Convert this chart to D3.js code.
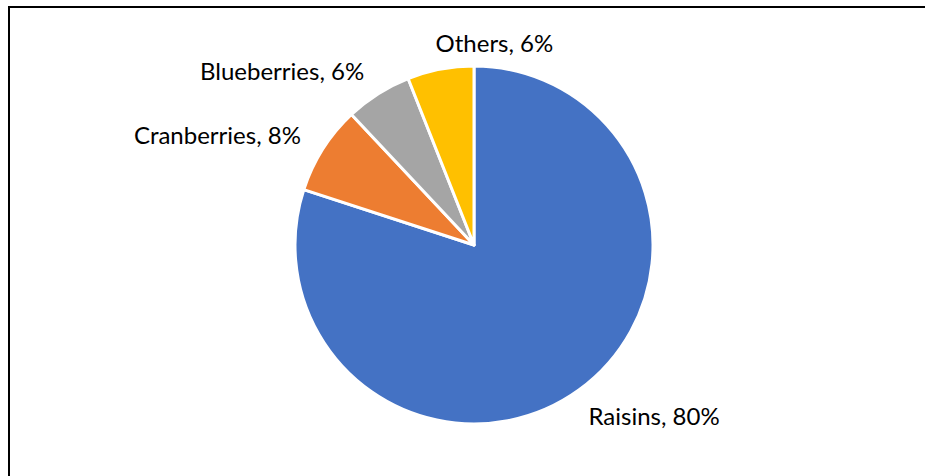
<!DOCTYPE html>
<html><head><meta charset="utf-8">
<script src="https://cdn.jsdelivr.net/npm/d3@7"></script>
<style>html,body{margin:0;padding:0;background:#fff;}svg{display:block;}</style>
</head><body>
<script>
const categories = ["Raisins", "Cranberries", "Blueberries", "Others"];
const values = [80, 8, 6, 6];
const colors = ["#4472C4", "#ED7D31", "#A5A5A5", "#FFC000"];

const W = 925, H = 476;
const cx = 474, cy = 245, R = 179, LR = 205;

const svg = d3.select("body").append("svg").attr("width", W).attr("height", H);
svg.append("rect").attr("width", W).attr("height", H).attr("fill", "#fff");
svg.append("rect").attr("x", 9).attr("y", 7).attr("width", W).attr("height", H)
  .attr("fill", "none").attr("stroke", "#000").attr("stroke-width", 2);

const data = categories.map((c, i) => ({cat: c, val: values[i], color: colors[i]}));
const pie = d3.pie().value(d => d.val).sort(null);
const arcs = pie(data);
const arc = d3.arc().innerRadius(0).outerRadius(R);
const g = svg.append("g").attr("transform", `translate(${cx},${cy})`);
g.selectAll("path").data(arcs).join("path")
  .attr("d", arc).attr("fill", d => d.data.color)
  .attr("stroke", "#fff").attr("stroke-width", 3).attr("stroke-linejoin", "round");

const mid = d => (d.startAngle + d.endAngle) / 2;
g.selectAll("text").data(arcs).join("text")
  .attr("x", d => Math.sin(mid(d)) * LR + (Math.cos(mid(d)) < -0.5 ? -6 : 0))
  .attr("y", d => -Math.cos(mid(d)) * LR + (Math.cos(mid(d)) < -0.5 ? 6 : 0))
  .attr("dy", "0.35em")
  .attr("text-anchor", d => Math.sin(mid(d)) < -0.4 ? "end" : "start")
  .attr("font-family", "Lato, 'Noto Sans', sans-serif").attr("font-size", 24).attr("fill", "#000")
  .text(d => `${d.data.cat}, ${d3.format(".0%")(d.data.val / d3.sum(values))}`);
</script>
</body></html>
